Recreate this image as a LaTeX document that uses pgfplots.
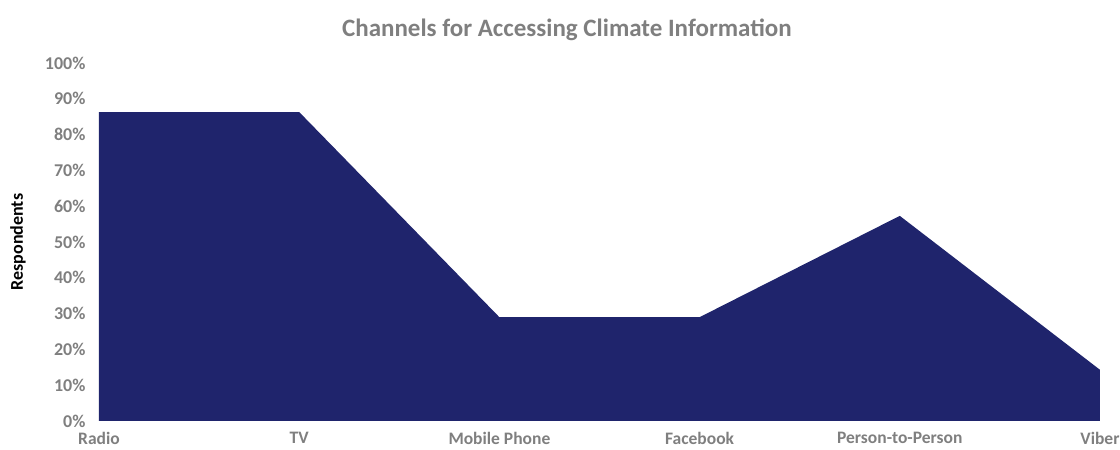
\documentclass[border=0pt]{standalone}
\usepackage{pgfplots}
\pgfplotsset{compat=1.18}
\usepackage{fontspec}
\setmainfont{Carlito}
\definecolor{navy}{HTML}{1F246C}
\definecolor{txtgray}{HTML}{7F7F7F}
\definecolor{axgray}{HTML}{D9D9D9}
\begin{document}
\begin{tikzpicture}
\begin{axis}[
  scale only axis, width=1001pt, height=358pt,
  xmin=0, xmax=5, ymin=0, ymax=100,
  xtick={0,1,2,3,4,5},
  xticklabels={Radio,TV,Mobile Phone,Facebook,Person-to-Person,Viber},
  ytick={0,10,...,100},
  yticklabel={\pgfmathprintnumber{\tick}\%},
  /pgf/number format/assume math mode=true,
  axis x line*=bottom, axis y line*=left,
  x axis line style={draw=axgray, line width=1pt, -},
  y axis line style={draw=none},
  major tick length=0pt,
  tick style={draw=none},
  ticklabel style={font=\fontsize{18}{18}\selectfont\bfseries, text=txtgray},
  yticklabel style={xshift=-10pt},
  xticklabel style={inner sep=0pt, yshift=-11pt, font=\fontsize{17.5}{17.5}\selectfont\bfseries},
  title={Channels for Accessing Climate Information},
  title style={at={(axis description cs:0.4675,1)}, anchor=base, yshift=20pt,
    font=\fontsize{25}{25}\selectfont\bfseries, text=txtgray},
  ylabel={Respondents},
  ylabel style={at={(axis description cs:-0.081,0.5)}, anchor=center,
    font=\fontsize{18}{18}\selectfont\bfseries, text=black},
  clip=false,
]
\addplot[fill=navy, draw=none] coordinates {
  (0,86.3) (1,86.3) (2,29) (3,29) (4,57.3) (5,14.3)
} \closedcycle;
\coordinate (o) at (rel axis cs:0,0);
\end{axis}
\pgfresetboundingbox
\path (o) ++(-99pt,-29pt) rectangle ++(1120pt,450pt);
\end{tikzpicture}
\end{document}
